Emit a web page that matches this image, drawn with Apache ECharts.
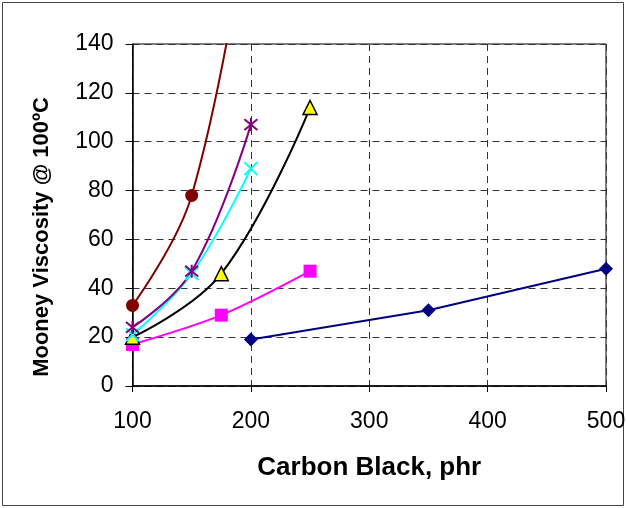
<!DOCTYPE html>
<html><head><meta charset="utf-8">
<script src="https://cdn.jsdelivr.net/npm/echarts@6/dist/echarts.min.js"></script>
<style>html,body{margin:0;padding:0;background:#fff}#c{width:626px;height:508px}</style>
</head><body><div id="c"></div>
<script>
const xTicks = [100, 200, 300, 400, 500];
const yTicks = [0, 20, 40, 60, 80, 100, 120, 140];

const navyX = [200, 350, 500];
const navyY = [19, 31, 48];
const magentaX = [100, 175, 250];
const magentaY = [17, 29, 47];
const triX = [100, 175, 250];
const triY = [20, 46, 114];
const cyanX = [100, 150, 200];
const cyanY = [21, 46, 89];
const purpleX = [100, 150, 200];
const purpleY = [24, 47, 107];
const brownX = [100, 150, 200];
const brownY = [33, 78, 200];

const pair = (xs, ys) => xs.map((x, i) => [x, ys[i]]);
const font = 'Liberation Sans, Arial, sans-serif';
const xPath = 'path://M0,0L10,10M10,0L0,10';
const starPath = 'path://M0,0L10,10M10,0L0,10M5,-1L5,11';

function line(name, xs, ys, lineColor, symbol, size, fill, border, bw, smooth) {
  return {
    name, type: 'line', data: pair(xs, ys), smooth: smooth,
    symbol, symbolSize: size, showSymbol: true,
    lineStyle: { color: lineColor, width: 2 },
    itemStyle: { color: fill, borderColor: border, borderWidth: bw, opacity: 1 },
    emphasis: { disabled: true }, z: 3
  };
}

const chart = echarts.init(document.getElementById('c'), null, { renderer: 'canvas' });
chart.setOption({
  animation: false,
  backgroundColor: '#fff',
  grid: { left: 132.5, right: 20, top: 44, bottom: 122, outerBoundsMode: 'none', containLabel: false, show: true, borderColor: '#000', borderWidth: 1, backgroundColor: 'transparent' },
  xAxis: {
    type: 'value', min: xTicks[0], max: xTicks[xTicks.length - 1], interval: 100,
    name: 'Carbon Black, phr', nameLocation: 'middle', nameGap: 69,
    nameTextStyle: { fontFamily: font, fontSize: 26, fontWeight: 'bold', color: '#000' },
    axisLine: { lineStyle: { color: '#000', width: 1.5 } },
    axisTick: { show: true, length: 6, lineStyle: { color: '#000' } },
    axisLabel: { fontFamily: font, fontSize: 23, color: '#000', margin: 24 },
    splitLine: { show: true, lineStyle: { color: '#333', type: [7, 5], width: 1 } }
  },
  yAxis: {
    type: 'value', min: yTicks[0], max: yTicks[yTicks.length - 1], interval: 20,
    name: 'Mooney Viscosity @ 100ºC', nameLocation: 'middle', nameGap: 80, nameRotate: 90,
    nameTextStyle: { fontFamily: font, fontSize: 22, fontWeight: 'bold', color: '#000', padding: [0, 44, 0, 0] },
    axisLine: { show: true, lineStyle: { color: '#000', width: 1.5 } },
    axisTick: { show: true, length: 7, lineStyle: { color: '#000' } },
    axisLabel: { fontFamily: font, fontSize: 23, color: '#000', margin: 19 },
    splitLine: { show: true, lineStyle: { color: '#333', type: [7, 5], width: 1 } }
  },
  graphic: [{ type: 'rect', shape: { x: 2.5, y: 2.5, width: 621, height: 503 }, style: { fill: 'none', stroke: '#444', lineWidth: 1 }, silent: true }],
  series: [
    line('navy', navyX, navyY, '#000080', 'diamond', 14, '#000080', '#000080', 0, false),
    line('magenta', magentaX, magentaY, '#FF00FF', 'rect', 13, '#FF00FF', '#FF00FF', 0, 0.3),
    line('tri', triX, triY, '#000000', 'triangle', 14, '#FFFF00', '#000000', 1.5, 0.4),
    line('cyan', cyanX, cyanY, '#00FFFF', xPath, 13, '#00FFFF', '#00FFFF', 2, 0.4),
    line('purple', purpleX, purpleY, '#800080', starPath, 13, '#800080', '#800080', 2, 0.4),
    line('brown', brownX, brownY, '#800000', 'circle', 13, '#800000', '#800000', 0, 0.4)
  ]
});
</script></body></html>
